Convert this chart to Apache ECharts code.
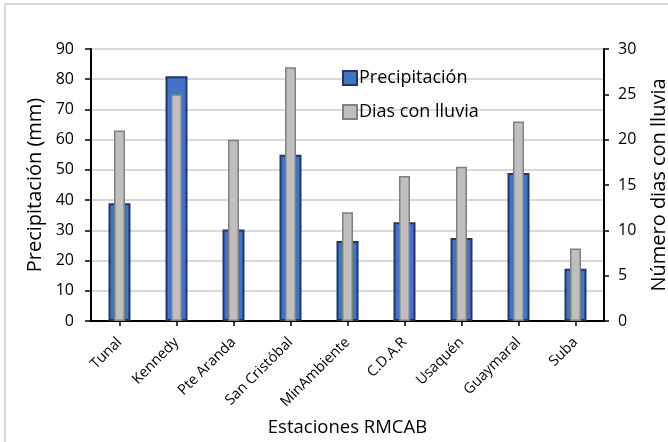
<!DOCTYPE html>
<html>
<head>
<meta charset="utf-8">
<script src="https://cdn.jsdelivr.net/npm/echarts@6/dist/echarts.min.js"></script>
<style>
  html, body { margin: 0; padding: 0; background: #fff; }
  #chart { width: 668px; height: 442px; }
</style>
</head>
<body>
<div id="chart"></div>
<script>
// Estaciones de la Red de Monitoreo de Calidad del Aire de Bogotá
const stations = ['Tunal', 'Kennedy', 'Pte Aranda', 'San Cristóbal', 'MinAmbiente', 'C.D.A.R', 'Usaquén', 'Guaymaral', 'Suba'];
// Precipitación acumulada (mm)
const precipitation = [39, 81, 30.3, 55, 26.5, 32.7, 27.5, 49, 17.3];
// Número de días con lluvia
const rainyDays = [21, 25, 20, 28, 12, 16, 17, 22, 8];

const FONT = 'Open Sans';
const chart = echarts.init(document.getElementById('chart'), null, { renderer: 'canvas' });

chart.setOption({
  backgroundColor: '#ffffff',
  animation: false,
  textStyle: { fontFamily: FONT, color: '#000' },
  graphic: [{
    type: 'rect',
    shape: { x: 5, y: 4, width: 700, height: 480 },
    style: { fill: 'none', stroke: '#d9d9d9', lineWidth: 2 },
    silent: true,
    z: -10
  }],
  grid: { left: 91, right: 64, top: 49, bottom: 121, containLabel: false, outerBoundsMode: 'none' },
  legend: {
    orient: 'vertical',
    left: 342,
    top: 69,
    padding: 0,
    itemWidth: 14,
    itemHeight: 14,
    itemGap: 16,
    icon: 'rect',
    textStyle: { fontFamily: FONT, fontSize: 18, color: '#000', padding: [0, 0, 0, -3] },
    data: ['Precipitación', 'Dias con lluvia']
  },
  xAxis: [{
    type: 'category',
    data: stations,
    position: 'bottom',
    boundaryGap: true,
    name: 'Estaciones RMCAB',
    nameLocation: 'middle',
    nameGap: 97,
    nameTextStyle: { fontFamily: FONT, fontSize: 18.5, color: '#000' },
    axisLine: { lineStyle: { color: '#000', width: 2 } },
    axisTick: { show: true, alignWithLabel: true, length: 5, lineStyle: { color: '#000', width: 1.5 } },
    axisLabel: { rotate: 45, fontFamily: FONT, fontSize: 14.5, color: '#000', margin: 19, interval: 0 },
    splitLine: { show: false }
  }, {
    type: 'category',
    data: stations,
    position: 'top',
    boundaryGap: true,
    axisLine: { show: true, lineStyle: { color: '#000', width: 2 } },
    axisTick: { show: false },
    axisLabel: { show: false },
    splitLine: { show: false }
  }],
  yAxis: [{
    type: 'value',
    min: 0,
    max: 90,
    interval: 10,
    position: 'left',
    name: 'Precipitación (mm)',
    nameLocation: 'middle',
    nameGap: 45,
    nameTextStyle: { fontFamily: FONT, fontSize: 20, color: '#000' },
    axisLine: { show: true, lineStyle: { color: '#000', width: 2 } },
    axisTick: { show: true, length: 6, lineStyle: { color: '#000', width: 1.5 } },
    axisLabel: { fontFamily: FONT, fontSize: 16, color: '#000', margin: 17 },
    splitLine: { show: true, lineStyle: { color: '#d9d9d9', width: 1.8 } }
  }, {
    type: 'value',
    min: 0,
    max: 30,
    interval: 5,
    position: 'right',
    name: 'Número dias con lluvia',
    nameLocation: 'middle',
    nameGap: 45,
    nameRotate: 90,
    nameTextStyle: { fontFamily: FONT, fontSize: 20, color: '#000' },
    axisLine: { show: true, lineStyle: { color: '#000', width: 2 } },
    axisTick: { show: true, length: 5, lineStyle: { color: '#000', width: 1.5 } },
    axisLabel: { fontFamily: FONT, fontSize: 16, color: '#000', margin: 14 },
    splitLine: { show: false }
  }],
  series: [{
    name: 'Precipitación',
    type: 'bar',
    xAxisIndex: 0,
    yAxisIndex: 0,
    barWidth: 22,
    data: precipitation,
    itemStyle: { color: '#4472c4', borderColor: '#1f3864', borderWidth: 2 },
    z: 2
  }, {
    name: 'Dias con lluvia',
    type: 'bar',
    xAxisIndex: 1,
    yAxisIndex: 1,
    barWidth: 11,
    data: rainyDays,
    itemStyle: { color: '#bfbfbf', borderColor: '#808080', borderWidth: 1.5 },
    z: 3
  }]
});
</script>
</body>
</html>
